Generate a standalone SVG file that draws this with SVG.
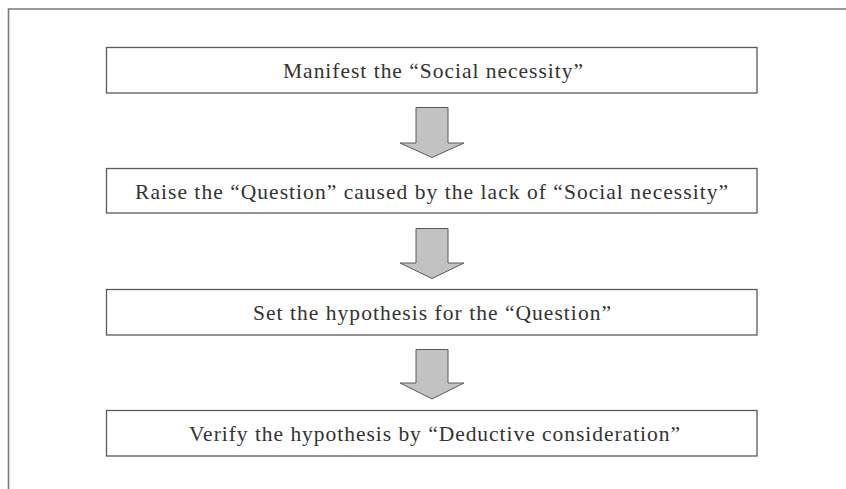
<svg xmlns="http://www.w3.org/2000/svg" width="846" height="489" viewBox="0 0 846 489">
  <style>
    .frame { fill: none; stroke: #7a7a7a; stroke-width: 1.6; }
    .box { fill: #ffffff; stroke: #5a5a5a; stroke-width: 1.3; }
    .label { font-family: "Liberation Serif", "Times New Roman", serif; font-size: 21.5px; fill: #333333; text-anchor: middle; }
    .arrow { fill: #c2c2c2; stroke: #5a5a5a; stroke-width: 1; stroke-linejoin: miter; }
  </style>
  <rect width="846" height="489" fill="#ffffff"/>
  <path class="frame" d="M8.5,489 V9 H846"/>

  <g id="node1">
    <rect class="box" x="106.5" y="47.5" width="650.5" height="45.5"/>
    <text class="label" x="433" y="78.3" textLength="300" lengthAdjust="spacing">Manifest the “Social necessity”</text>
  </g>
  <g id="node2">
    <rect class="box" x="106.5" y="168.5" width="650.5" height="44.5"/>
    <text class="label" x="431.5" y="199" textLength="593" lengthAdjust="spacing">Raise the “Question” caused by the lack of “Social necessity”</text>
  </g>
  <g id="node3">
    <rect class="box" x="106.5" y="289.5" width="650.5" height="45.5"/>
    <text class="label" x="432" y="320" textLength="358" lengthAdjust="spacing">Set the hypothesis for the “Question”</text>
  </g>
  <g id="node4">
    <rect class="box" x="106.5" y="410.5" width="650.5" height="45.5"/>
    <text class="label" x="434.5" y="441" textLength="491" lengthAdjust="spacing">Verify the hypothesis by “Deductive consideration”</text>
  </g>

  <g id="connectors">
    <path class="arrow" d="M416,107.5 H448 V143 H464 L432,157.5 L400,143 H416 Z"/>
    <path class="arrow" d="M416,228.5 H448 V263 H464 L432,278.5 L400,263 H416 Z"/>
    <path class="arrow" d="M416,349.5 H448 V383 H464 L432,399 L400,383 H416 Z"/>
  </g>
</svg>
